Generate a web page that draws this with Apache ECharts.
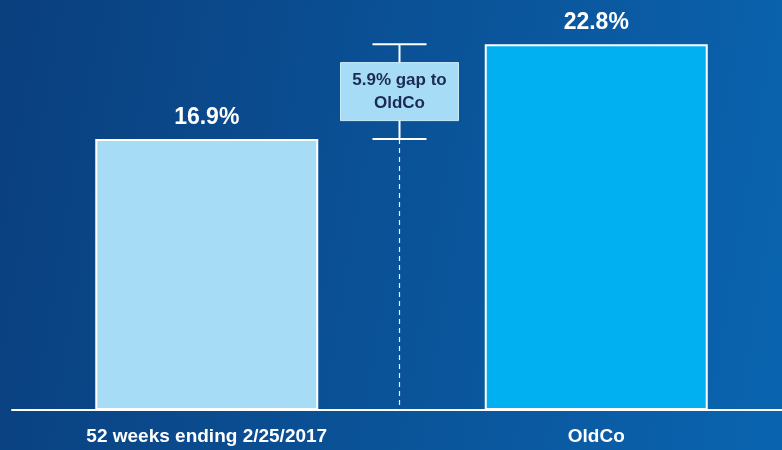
<!DOCTYPE html>
<html style="height: 100%">
<head>
	<meta charset="utf-8">
</head>
<body style="height: 100%; margin: 0; overflow: hidden">
<div id="container" style="width: 800px; height: 450px"></div>
<script type="text/javascript" src="https://cdn.jsdelivr.net/npm/echarts@6/dist/echarts.min.js"></script>
<script type="text/javascript">
    var categories = ['52 weeks ending 2/25/2017', 'OldCo'];
    var values = [16.9, 22.8];
    var barColors = ['#a6dcf5', '#00b0f0'];
    var gapLabel = '5.9% gap to\nOldCo';

    // chart is a bit wider than the window so the bars line up with the reference
    var dom = document.getElementById("container");
    var myChart = echarts.init(dom);
    var font = '"Liberation Sans", Arial, sans-serif';

    // bracket between the two bars
    function renderGap(params, api) {
        var lo = api.value(0), hi = api.value(1);
        var p0 = api.coord([0, lo]);
        var p1 = api.coord([1, hi]);
        var base = api.coord([0, 0])[1];
        var x = (p0[0] + p1[0]) / 2 - 2;
        var yLo = p0[1], yHi = p1[1];
        var mid = (yLo + yHi) / 2;
        var line = { stroke: '#ffffff', lineWidth: 2 };
        return {
            type: 'group',
            children: [
                { type: 'line', shape: { x1: x, y1: yLo, x2: x, y2: base }, style: { stroke: '#e8eef8', lineWidth: 1.2, lineDash: [5, 4] } },
                { type: 'line', shape: { x1: x, y1: yHi, x2: x, y2: yLo }, style: line },
                { type: 'line', shape: { x1: x - 27, y1: yHi, x2: x + 27, y2: yHi }, style: line },
                { type: 'line', shape: { x1: x - 27, y1: yLo, x2: x + 27, y2: yLo }, style: line },
                { type: 'rect', shape: { x: x - 59, y: mid - 29, width: 118, height: 58 }, style: { fill: '#a6dcf5', stroke: '#c9ecfb', lineWidth: 1 } },
                { type: 'text', x: x, y: mid, style: { text: gapLabel, fill: '#1b2a55', font: 'bold 17px ' + font, align: 'center', verticalAlign: 'middle', lineHeight: 23 } }
            ]
        };
    }

    var option = {
        backgroundColor: new echarts.graphic.LinearGradient(0, 0, 1, 0.3, [
            { offset: 0, color: '#0a3f7e' },
            { offset: 1, color: '#0a63ae' }
        ]),
        animation: false,
        grid: { left: 12, right: 9, top: 9, bottom: 40 },
        xAxis: {
            type: 'category',
            data: categories,
            axisLine: { lineStyle: { color: '#ffffff', width: 2 } },
            axisTick: { show: false },
            axisLabel: { color: '#ffffff', fontWeight: 'bold', fontSize: 19, fontFamily: font, margin: 17 }
        },
        yAxis: {
            type: 'value',
            min: 0,
            max: 25,
            show: false,
            splitLine: { show: false }
        },
        series: [{
            type: 'bar',
            barWidth: 223,
            data: values.map(function (v, i) {
                return { value: v, itemStyle: { color: barColors[i] } };
            }),
            itemStyle: { borderColor: '#ffffff', borderWidth: 2 },
            label: {
                show: true,
                position: 'top',
                distance: 10,
                color: '#ffffff',
                fontWeight: 'bold',
                fontSize: 23,
                fontFamily: font,
                formatter: function (p) { return p.value.toFixed(1) + '%'; }
            }
        }, {
            type: 'custom',
            renderItem: renderGap,
            data: [[values[0], values[1]]],
            z: 5
        }]
    };

    myChart.setOption(option, true);
</script>
</body>
</html>
